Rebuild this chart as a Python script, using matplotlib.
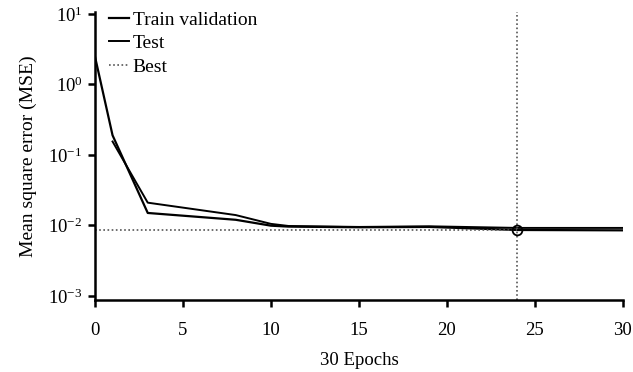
import matplotlib
matplotlib.use('Agg')
import matplotlib.pyplot as plt
from matplotlib.ticker import LogLocator, NullLocator

plt.rcParams['font.family'] = ['Liberation Serif', 'DejaVu Serif']
plt.rcParams['mathtext.fontset'] = 'stix'

# values
train_epochs = [0, 1, 3, 8, 10, 11, 15, 19, 24, 30]
train_mse = [2.5, 0.19, 0.015, 0.012, 0.0099, 0.0096, 0.0094, 0.0095, 0.0086, 0.0085]
test_epochs = [1, 3, 8, 10, 11, 15, 19, 24, 30]
test_mse = [0.155, 0.021, 0.014, 0.0105, 0.0098, 0.0095, 0.0097, 0.0092, 0.0092]
best_epoch = 24
best_mse = 0.0085

fig = plt.figure(figsize=(6.33, 3.72), dpi=100)
ax = fig.add_axes([0.150, 0.194, 0.834, 0.774])

ax.plot(train_epochs, train_mse, color='black', lw=1.6, label='Train validation')
ax.plot(test_epochs, test_mse, color='black', lw=1.4, label='Test')
ax.plot([0, best_epoch], [best_mse, best_mse], color='#555555', lw=1.2,
        ls=(0, (1, 1.5)), label='Best')
ax.axvline(best_epoch, color='#555555', lw=1.2, ls=(0, (1, 1.5)))
ax.plot([best_epoch], [best_mse], 'o', mfc='none', mec='black', ms=7, mew=1.3)

ax.set_yscale('log')
ax.set_xlim(0, 30)
ax.set_ylim(10 ** -3.057, 10 ** 1.03)
ax.set_xticks(range(0, 31, 5))
ax.yaxis.set_major_locator(LogLocator(base=10, numticks=10))
ax.yaxis.set_minor_locator(NullLocator())

for s in ['top', 'right']:
    ax.spines[s].set_visible(False)
for s in ['left', 'bottom']:
    ax.spines[s].set_linewidth(1.8)
ax.tick_params(direction='out', length=5, width=1.8, labelsize=13.5)
ax.tick_params(axis='x', pad=11)
ax.tick_params(axis='y', pad=4)

ax.set_xlabel('30 Epochs', fontsize=13.5, labelpad=9)
ax.set_ylabel('Mean square error (MSE)', fontsize=14, labelpad=8)

ax.legend(loc='upper left', bbox_to_anchor=(0.0, 1.05), frameon=False,
          fontsize=14, handlelength=1.05, handletextpad=0.2,
          labelspacing=0.3, borderaxespad=0.3)

fig.savefig('out.png', dpi=100)
